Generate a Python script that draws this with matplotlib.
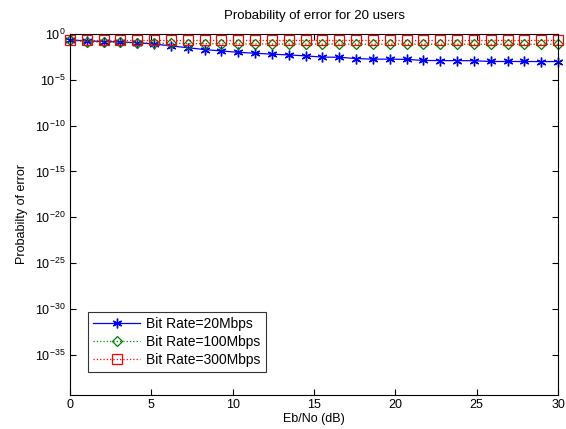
import numpy as np
import matplotlib
matplotlib.use("Agg")
import matplotlib.pyplot as plt
from matplotlib.ticker import FixedLocator, NullLocator

plt.rcParams['font.family'] = ['Liberation Sans', 'DejaVu Sans']
plt.rcParams['mathtext.fontset'] = 'custom'
plt.rcParams['mathtext.rm'] = 'Liberation Sans'

ebno = np.linspace(0, 30, 30)
pe_20 = [2.2e-1, 1.8e-1, 1.5e-1, 1.35e-1, 1.1e-1, 8.1e-2, 5.0e-2, 3.2e-2, 2.0e-2, 1.4e-2,
         1.0e-2, 8.0e-3, 6.3e-3, 5.2e-3, 4.1e-3, 3.0e-3, 2.9e-3, 2.1e-3, 1.8e-3, 1.8e-3,
         1.7e-3, 1.3e-3, 1.25e-3, 1.25e-3, 1.2e-3, 1.0e-3, 1.0e-3, 1.0e-3, 9.8e-4, 9.8e-4]
pe_100 = [2.2e-1, 1.4e-1, 1.3e-1, 1.2e-1, 1.1e-1, 1.0e-1, 9.5e-2, 9.0e-2, 8.8e-2, 8.5e-2,
          8.3e-2, 8.2e-2, 8.1e-2, 8.0e-2, 8.0e-2, 7.9e-2, 7.9e-2, 7.8e-2, 7.8e-2, 7.8e-2,
          7.7e-2, 7.7e-2, 7.7e-2, 7.7e-2, 7.6e-2, 7.6e-2, 7.6e-2, 7.6e-2, 7.6e-2, 7.6e-2]
pe_300 = [2.0e-1, 2.0e-1, 2.0e-1, 2.0e-1, 2.0e-1, 2.0e-1, 2.0e-1, 2.0e-1, 2.0e-1, 2.0e-1,
          2.0e-1, 2.0e-1, 2.0e-1, 2.0e-1, 2.0e-1, 2.0e-1, 2.0e-1, 2.0e-1, 2.0e-1, 2.0e-1,
          2.0e-1, 2.0e-1, 2.0e-1, 2.0e-1, 2.0e-1, 2.0e-1, 2.0e-1, 2.0e-1, 2.0e-1, 2.0e-1]
labels = ['Bit Rate=20Mbps', 'Bit Rate=100Mbps', 'Bit Rate=300Mbps']
xticks = [0, 5, 10, 15, 20, 25, 30]
yexps = [0, -5, -10, -15, -20, -25, -30, -35]

fs = 9
fig = plt.figure(figsize=(5.66, 4.29), dpi=100)
ax = fig.add_axes([70/566, 1-395/429, 488/566, 361/429])

ax.semilogy(ebno, pe_20, color='blue', linestyle='-', linewidth=0.9,
            marker=(6, 2, 0), markersize=7, markeredgewidth=1.0, label=labels[0], clip_on=False)
ax.semilogy(ebno, pe_100, color=(0, 0.5, 0), linestyle=':', linewidth=0.9,
            marker='D', markersize=5.5, markerfacecolor='none', markeredgewidth=0.9,
            label=labels[1], clip_on=False)
ax.semilogy(ebno, pe_300, color='red', linestyle=':', linewidth=0.9,
            marker='s', markersize=6.8, markerfacecolor='none', markeredgewidth=0.9,
            label=labels[2], clip_on=False)

ax.set_xlim(0, 30)
ax.set_ylim(10**-39.4, 1)
ax.xaxis.set_major_locator(FixedLocator(xticks))
ax.yaxis.set_major_locator(FixedLocator([10.0**e for e in yexps]))
ax.yaxis.set_minor_locator(NullLocator())
ax.set_yticklabels([r'$\mathregular{10^{%d}}$' % e for e in yexps])
ax.tick_params(direction='in', top=True, right=True, labelsize=fs, length=4, width=0.8, pad=3)
for s in ax.spines.values():
    s.set_linewidth(0.8)
    s.set_zorder(5)

ax.set_title('Probability of error for 20 users', fontsize=9.5, pad=11)
ax.set_xlabel('Eb/No (dB)', fontsize=fs, labelpad=1)
ax.set_ylabel('Probabilty of error', fontsize=fs, labelpad=5)

leg = ax.legend(loc='lower left', bbox_to_anchor=(0.037, 0.064), numpoints=1, fontsize=10,
                frameon=True, fancybox=False, edgecolor='black', borderpad=0.35,
                handlelength=3.4, handletextpad=0.45, labelspacing=0.3, borderaxespad=0)
leg.get_frame().set_linewidth(0.8)

fig.savefig('out.png', dpi=100)
